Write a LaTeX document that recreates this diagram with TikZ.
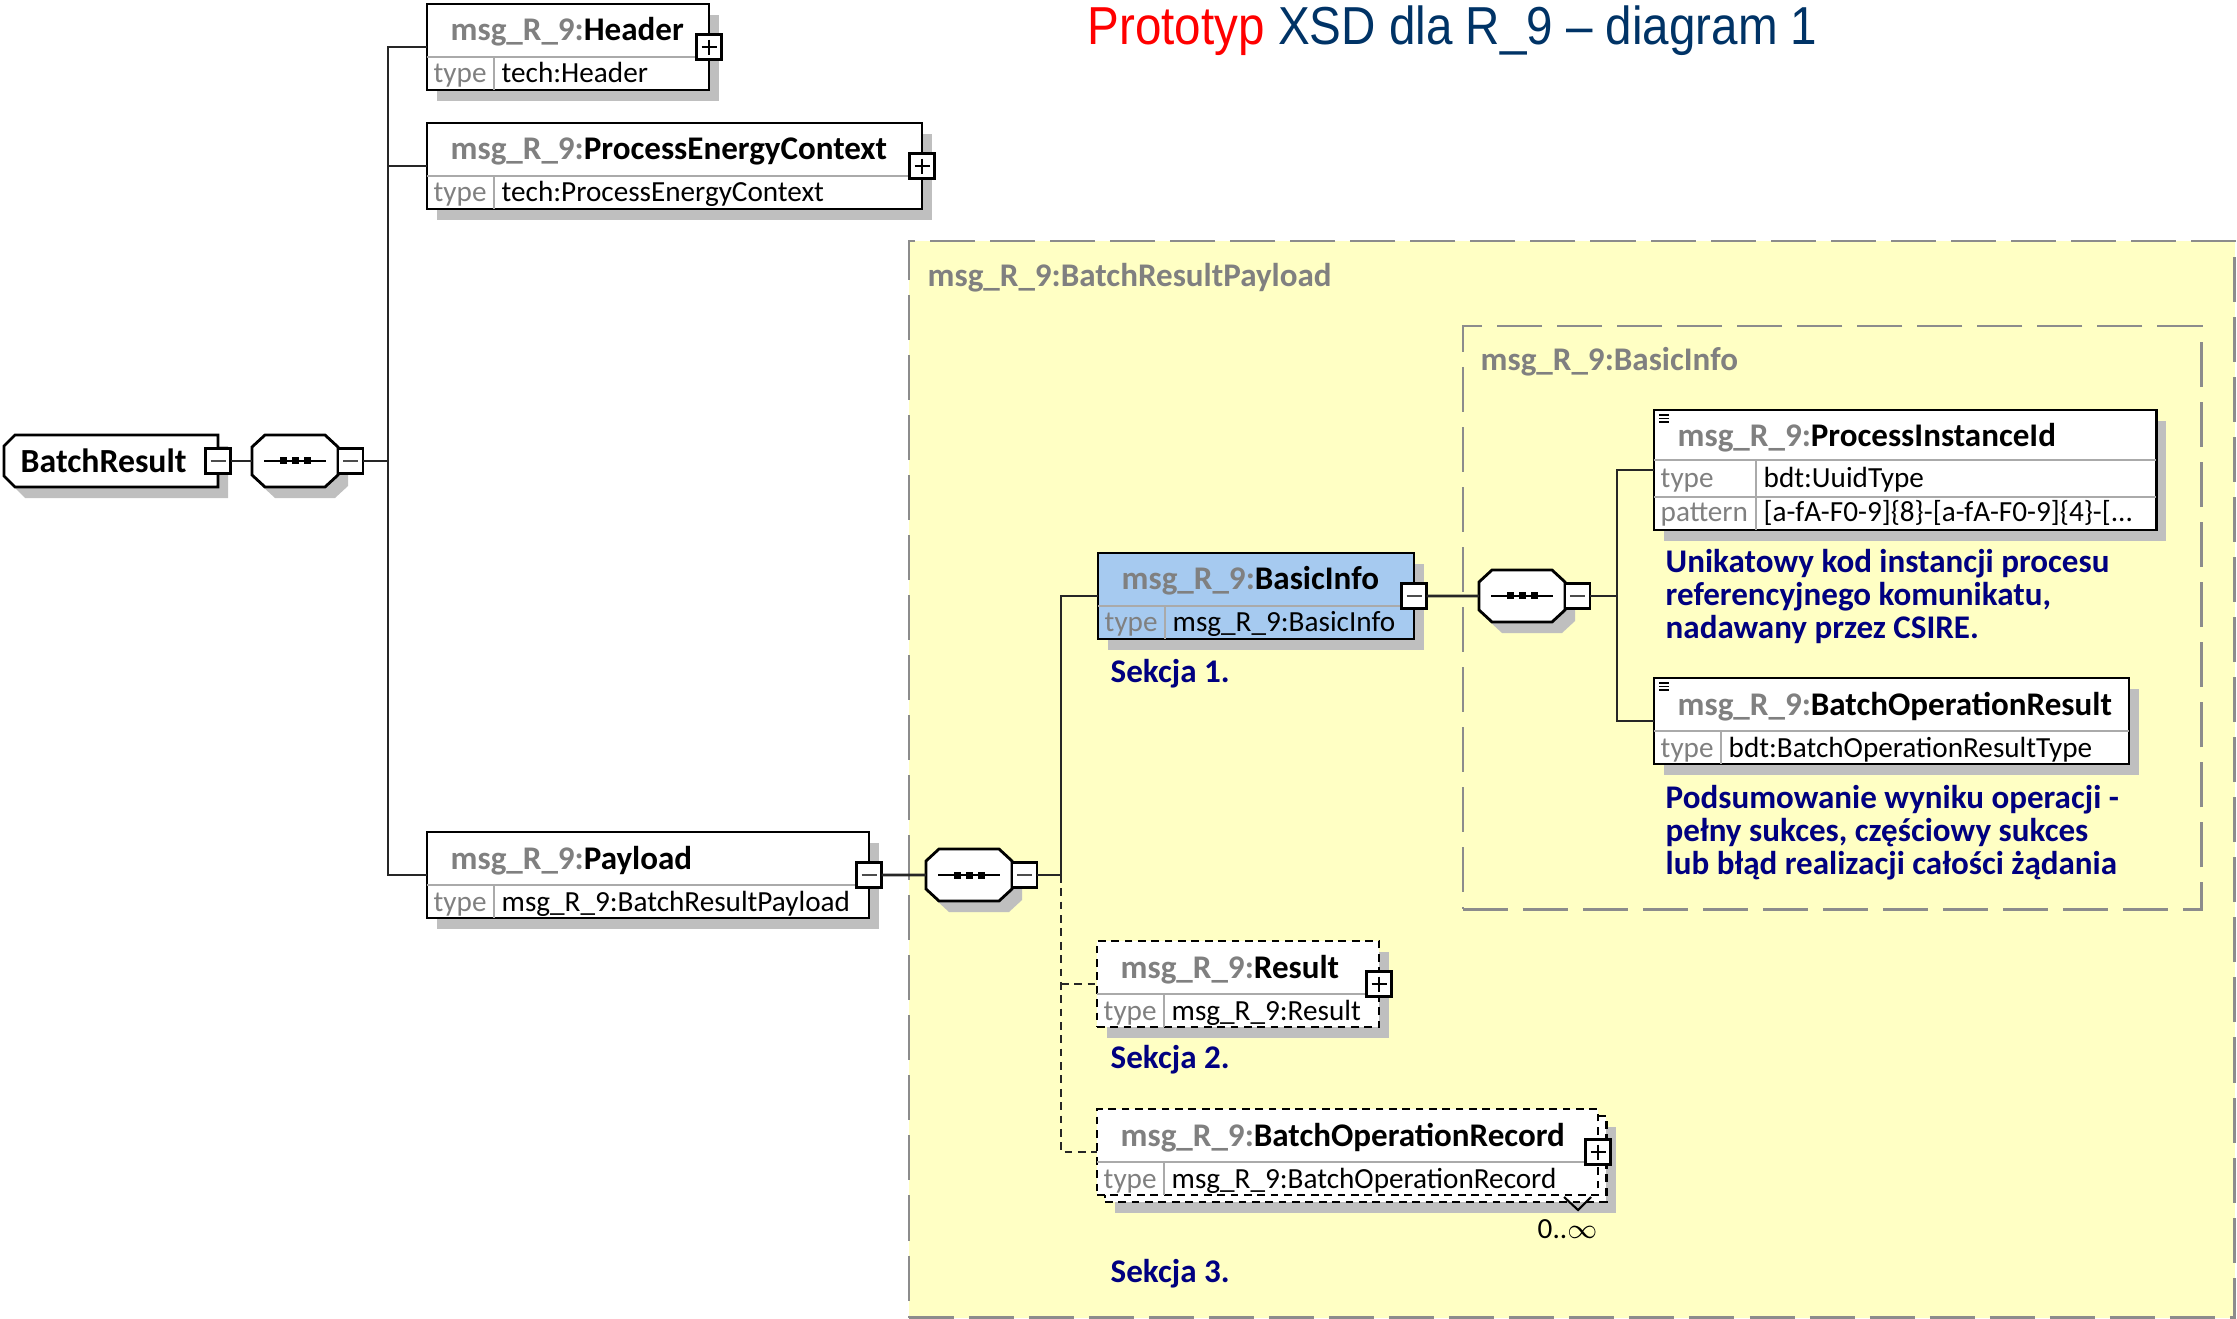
\documentclass[tikz,border=0pt]{standalone}
\usepackage{fontspec}
\setmainfont{Carlito}
\newfontfamily\titlefont[FakeStretch=0.89]{Liberation Sans}
\usetikzlibrary{positioning,shadows}

\definecolor{regfill}{RGB}{255,255,196}
\definecolor{regline}{RGB}{140,140,140}
\definecolor{pfx}{RGB}{128,128,128}
\definecolor{selfill}{RGB}{166,202,240}
\definecolor{docblue}{RGB}{0,0,128}
\definecolor{titleblue}{RGB}{0,51,102}
\definecolor{rowgray}{RGB}{170,170,170}

\begin{document}
\begin{tikzpicture}[x=0.01cm, y=-0.01cm,
	shad/.style={drop shadow={shadow xshift=0.1cm, shadow yshift=-0.11cm, fill=black!25, opacity=1}},
	elem/.style={draw, line width=0.8pt, fill=white, anchor=north west, minimum height=0.86cm, inner sep=0pt, outer sep=0pt},
	solidbox/.style={shad},
	selbox/.style={shad, fill=selfill},
	optbox/.style={shad, dash pattern=on 2.2pt off 1.6pt},
	optfront/.style={dash pattern=on 2.2pt off 1.6pt},
	rowline/.style={rowgray, line width=0.6pt},
	outline/.style={draw, line width=0.8pt, fill=white, shad},
	ttl/.style={anchor=base west, inner sep=0pt, font=\fontsize{9.4}{11}\selectfont\bfseries},
	rowtxt/.style={anchor=base west, inner sep=0pt, font=\fontsize{8.3}{10}\selectfont},
	note/.style={anchor=base west, inner sep=0pt, docblue, font=\fontsize{9.4}{11}\selectfont\bfseries},
	grplbl/.style={anchor=base west, inner sep=0pt, pfx, font=\fontsize{9.4}{11}\selectfont\bfseries},
	region/.style={draw=regline, fill=regfill, line width=0.75pt, dash pattern=on 0.45cm off 0.15cm, anchor=north west, inner sep=0pt, outer sep=0pt},
	signbox/.style={draw, line width=0.8pt, fill=white, minimum size=0.25cm, inner sep=0pt, outer sep=0pt},
	plusbox/.style={signbox, path picture={
		\draw[line width=0.6pt] ([xshift=0.05cm]path picture bounding box.west) -- ([xshift=-0.05cm]path picture bounding box.east)
			([yshift=-0.05cm]path picture bounding box.north) -- ([yshift=0.05cm]path picture bounding box.south);}},
	minusbox/.style={signbox, path picture={
		\draw[line width=0.6pt, black!70] ([xshift=0.05cm]path picture bounding box.west) -- ([xshift=-0.05cm]path picture bounding box.east);}},
	seq/.style={minimum width=0.86cm, minimum height=0.52cm, inner sep=0pt, outer sep=0pt},
	conn/.style={line width=0.8pt, black!85},
	optconn/.style={conn, dash pattern=on 2.2pt off 1.6pt}]
	\useasboundingbox (0,0) rectangle (2237,1319);

	% title
	\node[anchor=base west, inner sep=0pt, font=\titlefont\fontsize{15.2}{18}\selectfont] (title) at (1087,45)
		{\textcolor{red}{Prototyp} \textcolor{titleblue}{XSD dla R\_9 – diagram 1}};

	% groups
	\node[region, minimum width=13.25cm, minimum height=10.76cm] (brp) at (909,241) {};
	\node[region, minimum width=7.38cm, minimum height=5.83cm] (bigrp) at (1463,326) {};
	\node[grplbl] (brp-l) at (927,287) {msg\_R\_9:BatchResultPayload};
	\node[grplbl] (bigrp-l) at (1480,371) {msg\_R\_9:BasicInfo};

	% root
	\draw[outline] (15,435) -- (218,435) -- (218,487) -- (15,487) -- (4,476) -- (4,446) -- cycle;
	\node[seq, minimum width=2.14cm, minimum height=0.52cm] (br) at (111,461) {};
	\node[anchor=west, inner sep=0pt, font=\fontsize{9.6}{11}\selectfont\bfseries] (br-t) at (20,461) {BatchResult};

	% sequence compositors
	\foreach \n/\cx/\cy in {s1/295/461, s2/969/875, s3/1522/596} {
		\draw[outline, shift={(\cx,\cy)}] (-30,-26) -- (30,-26) -- (43,-14) -- (43,14) -- (30,26) -- (-30,26) -- (-43,14) -- (-43,-14) -- cycle;
		\draw[line width=0.7pt, shift={(\cx,\cy)}] (-31,0) -- (31,0);
		\foreach \d in {-12,0,12} {
			\fill[shift={(\cx,\cy)}] (\d-3.5,-3.5) rectangle (\d+3.5,3.5);
		}
		\node[seq] (\n) at (\cx,\cy) {};
		\node[minusbox, right=0pt of \n] (\n m) {};
	}

	% elements
	\node[elem, optbox, minimum width=5.01cm] (bor-b) at (1105,1116) {};
	\foreach \n/\x/\y/\w/\st/\nm/\ty in {
		hdr/427/4/282/solidbox/Header/tech:Header,
		pec/427/123/495/solidbox/ProcessEnergyContext/tech:ProcessEnergyContext,
		pay/427/832/442/solidbox/Payload/msg\_R\_9:BatchResultPayload,
		bi/1098/553/316/selbox/BasicInfo/msg\_R\_9:BasicInfo,
		res/1097/941/282/optbox/Result/msg\_R\_9:Result,
		bor/1097/1109/501/optfront/BatchOperationRecord/msg\_R\_9:BatchOperationRecord,
		bop/1654/678/475/solidbox/BatchOperationResult/bdt:BatchOperationResultType} {
		\node[elem, \st, minimum width=\w*0.01cm] (\n) at (\x,\y) {};
		\draw[rowline] (\x,\y+53) -- (\x+\w,\y+53) (\x+67,\y+53) -- (\x+67,\y+86);
		\node[ttl] (\n-t) at (\x+23,\y+37) {\textcolor{pfx}{msg\_R\_9:}\nm};
		\node[rowtxt, pfx] (\n-k) at (\x+6,\y+79) {type};
		\node[rowtxt] (\n-v) at (\x+74,\y+79) {\ty};
	}

	\node[elem, solidbox, minimum width=5.02cm, minimum height=1.2cm] (pid) at (1654,410) {};
	\draw[rowline] (1654,460) -- (2156,460) (1654,497) -- (2156,497) (1756,460) -- (1756,530);
	\node[ttl] (pid-t) at (1677,447) {\textcolor{pfx}{msg\_R\_9:}ProcessInstanceId};
	\node[rowtxt, pfx] (pid-k) at (1660,488) {type};
	\node[rowtxt] (pid-v) at (1763,488) {bdt:UuidType};
	\node[rowtxt, pfx] (pid-pk) at (1660,522) {pattern};
	\node[rowtxt] (pid-pv) at (1763,522) {[a-fA-F0-9]\{8\}-[a-fA-F0-9]\{4\}-[...};

	% doc marks
	\foreach \n in {pid,bop} {
		\foreach \k in {0,1,2} {
			\draw[line width=0.5pt] ([shift={(5,5+3.5*\k)}]\n.north west) -- +(10,0);
		}
	}

	% expand / collapse signs
	\foreach \n/\k in {br/minusbox, hdr/plusbox, pec/plusbox, pay/minusbox, bi/minusbox, res/plusbox, bor/plusbox} {
		\node[\k] (\n-s) at (\n.east) {};
	}

	% occurrence
	\draw[line width=0.6pt] (1564,1197) -- (1578,1210) -- (1591,1197);
	\node[rowtxt] (bor-m) at (1537,1238) {0..$\infty$};

	% notes
	\foreach \l [count=\i] in {Unikatowy kod instancji procesu, {referencyjnego komunikatu,}, nadawany przez CSIRE.} {
		\node[note] (pid-d\i) at (1665,540+33*\i) {\l};
	}
	\foreach \l [count=\i] in {Podsumowanie wyniku operacji -, {pełny sukces, częściowy sukces}, lub błąd realizacji całości żądania} {
		\node[note] (bop-d\i) at (1665,775+33*\i) {\l};
	}
	\foreach \i/\y in {1/682, 2/1068, 3/1282} {
		\node[note] (sek\i) at (1110,\y) {Sekcja \i.};
	}

	% connectors
	\coordinate (bar1) at (388,0);
	\coordinate (bar2) at (1061,0);
	\coordinate (bar3) at (1617,0);
	\draw[conn] (br-s.east) -- (s1.west);
	\draw[conn] (s1m.east) -- (s1m.east -| bar1);
	\draw[conn] (hdr.west) -- (hdr.west -| bar1) -- (pay.west -| bar1) -- (pay.west);
	\draw[conn] (pec.west) -- (pec.west -| bar1);
	\draw[conn] (pay-s.east) -- (s2.west);
	\draw[conn] (s2m.east) -- (s2m.east -| bar2);
	\draw[conn] (bi.west) -- (bi.west -| bar2) -- (s2m.east -| bar2);
	\draw[optconn] (s2m.east -| bar2) -- (bor.west -| bar2) -- (bor.west);
	\draw[optconn] (res.west -| bar2) -- (res.west);
	\draw[conn] (bi-s.east) -- (s3.west);
	\draw[conn] (s3m.east) -- (s3m.east -| bar3);
	\draw[conn] (pid.west) -- (pid.west -| bar3) -- (bop.west -| bar3) -- (bop.west);
\end{tikzpicture}
\end{document}
